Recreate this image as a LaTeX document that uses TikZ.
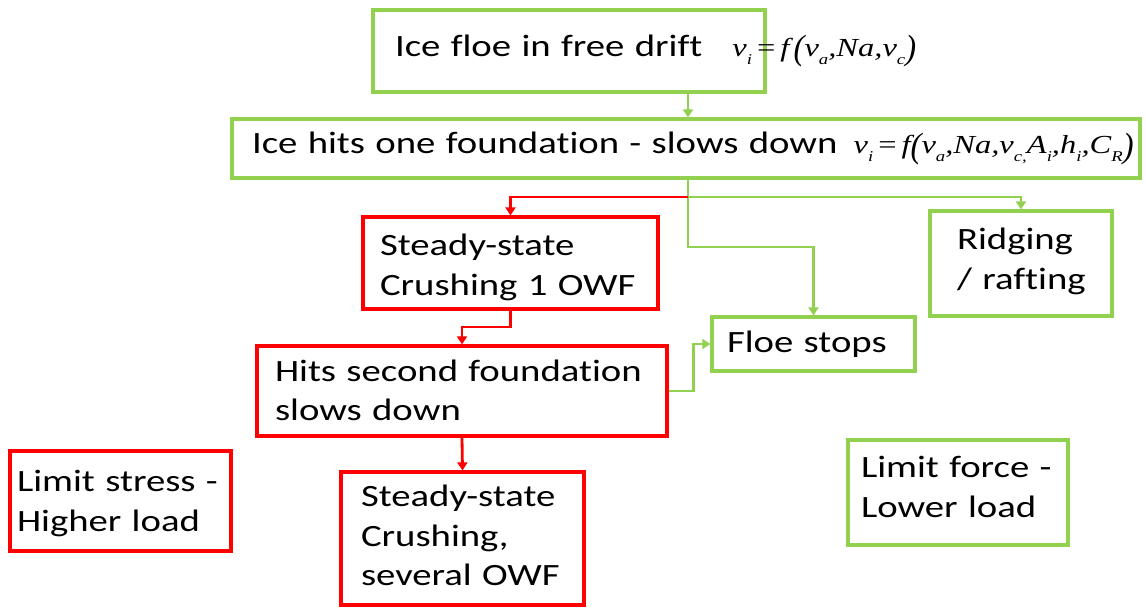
\documentclass[tikz,border=0pt]{standalone}
\usepackage{fontspec}
\setmainfont{Carlito}[FakeStretch=1.25, Ligatures=NoCommon]
\newfontfamily\tms{Liberation Serif}[FakeStretch=1.25]
\usetikzlibrary{arrows.meta}
\definecolor{gr}{HTML}{92D050}
\definecolor{rd}{HTML}{FF0000}
\newcommand{\sbs}[1]{\raisebox{-0.3em}{\fontsize{15}{15}\selectfont #1}}
\newcommand{\bigp}[1]{\raisebox{-0.12em}{\scalebox{1}[1.35]{#1}}}
\newcommand{\eqs}{\hspace{5pt}{\upshape =}\hspace{5pt}}
\newcommand{\mth}[1]{{\fontsize{26}{30}\tms\itshape #1}}
% multi-line text block: first baseline raised by #1 above the box centre
\newcommand{\tlines}[3]{\raisebox{#1}[0pt][0pt]{\parbox[t]{#2}{#3}}}
\tikzset{
  box/.style={draw, line width=3.2pt, align=left, anchor=center,
    font=\fontsize{31}{39.5}\selectfont, inner ysep=0pt},
  gbox/.style={box, draw=gr},
  rbox/.style={box, draw=rd},
  garrow/.style={draw=gr, line width=2.8pt, -{Triangle[width=10pt,length=8pt]}},
  rarrow/.style={draw=rd, line width=2.8pt, -{Triangle[width=10pt,length=8pt]}},
  gline/.style={draw=gr, line width=2.8pt},
}
\begin{document}
\begin{tikzpicture}[x=1pt,y=1pt]
\useasboundingbox (0,0) rectangle (1146,608);
% boxes
\node[gbox, minimum width=392pt, minimum height=82pt, text width=348pt, inner xsep=22pt] (b1) at (569,557)
  {\raisebox{3pt}{Ice floe in free drift\hspace{30pt}\mth{v\sbs{i}\eqs f\,\bigp{(}v\sbs{a},Na,v\sbs{c}\bigp{)}}}};
\node[gbox, minimum width=908pt, minimum height=59pt, text width=868pt, inner xsep=20pt] (b2) at (686,459.5)
  {\raisebox{5pt}{Ice hits one foundation - slows down\hspace{16pt}\mth{v\sbs{i}\eqs f\bigp{(}v\sbs{a},Na,v\sbs{c,}A\sbs{i},h\sbs{i},C\sbs{R}\bigp{)}}}};
\node[rbox, minimum width=295pt, minimum height=92pt, text width=261pt, inner xsep=17pt] (st1) at (510.5,345)
  {\tlines{7.25pt}{261pt}{Steady-state\\Crushing 1 OWF}};
\node[gbox, minimum width=182pt, minimum height=105pt, text width=128pt, inner xsep=27pt] (ridge) at (1021,344.5)
  {\tlines{13.5pt}{128pt}{\mbox{Ridging}\\\mbox{/ rafting}}};
\node[gbox, minimum width=203pt, minimum height=54pt, text width=173pt, inner xsep=15pt] (floe) at (813.5,264)
  {Floe stops};
\node[rbox, minimum width=410pt, minimum height=90pt, text width=374pt, inner xsep=18pt] (hits) at (462,217)
  {\tlines{9.5pt}{374pt}{Hits second foundation\\slows down}};
\node[rbox, minimum width=243pt, minimum height=133pt, text width=203pt, inner xsep=20pt] (st2) at (462.5,69.5)
  {\tlines{31.5pt}{203pt}{Steady-state\\Crushing,\\several OWF}};
\node[rbox, minimum width=221pt, minimum height=100pt, text width=207pt, inner xsep=7pt] (ls) at (120.5,107)
  {\tlines{9.25pt}{207pt}{Limit stress -\\Higher load}};
\node[gbox, minimum width=220pt, minimum height=105pt, text width=194pt, inner xsep=13pt] (lf) at (958,115.5)
  {\tlines{14.75pt}{194pt}{Limit force -\\Lower load}};
% junction coordinates
\coordinate (jx) at (688,411);
\coordinate (g1) at (688,361);
\coordinate (r1) at (462,281);
% connectors
\draw[garrow] (b1.south -| jx) -- (b2.north -| jx);
\draw[gline] (b2.south -| jx) -- (jx);
\draw[garrow] (jx) -| (ridge.north);
\draw[garrow] (jx) -- (g1) -| (floe.north);
\draw[rarrow] (jx) -| (st1.north);
\draw[rarrow] (st1.south) |- (r1) -- (hits.north);
\draw[garrow] (hits.east) -- ++(25,0) |- (floe.west);
\draw[rarrow] (hits.south) -- (st2.north);
\end{tikzpicture}
\end{document}
